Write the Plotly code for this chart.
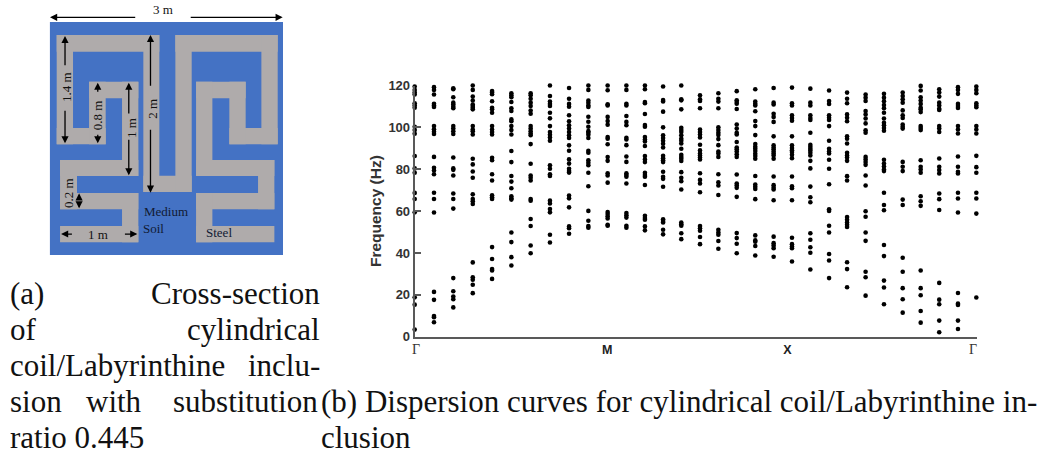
import plotly.graph_objects as go

# ---------- Dispersion data: frequency (Hz) per wave-vector step ----------
KPOS = [0,1.03,2.06,3.10,4.13,5.16,6.19,7.22,8.24,9.27,10.30,11.30,12.29,13.26,14.23,15.23,16.21,17.19,18.18,19.16,
        20.14,21.12,22.12,23.08,24.07,25.05,26.05,27.01,28.0,29.0,29.98]
F00 = [119.5,117.9,116.6,115.7,111.5,110.5,109.4,100.3,98.7,97,86.3,80.4,78.3,68.7,65.8,59.4,18.8,15.3,3.4]
F01 = [119.2,117.9,115.7,111.3,110.5,109.7,100.6,99.1,97.9,96.8,85.9,80.7,79.4,77.6,68.8,65.8,59.3,21.4,17.6,9.9,9.3,6.9]
F02 = [118.7,118.2,114.4,111.8,110.9,109.9,109.1,100.6,99.4,98.1,96.8,85.6,80.4,79.7,77,68.4,65.8,61.2,28,21.7,19.2,17.9,14]
F03 = [120,117.9,114.7,112.8,110.9,110.2,109.4,108.6,100.6,99,98.1,96.6,85,82.3,78.9,75.9,68,65.8,64.7,63.4,35.5,28.4,27.2,24.8,20.8]
F04 = [117.4,116.6,115.8,112.5,109.4,108.6,107,100.6,99,97.8,96.6,85.5,84.3,77.6,74.6,67.6,66.6,65.8,42.8,37.1,32.3,31.6,27.6]
F05 = [116.3,115.3,114.4,112.1,109.1,107.8,103.8,102.9,100.6,98.7,96.6,88.7,83.4,76.8,74.1,70.9,67.1,66.1,65.5,49.8,45.2,38,34]
F06 = [116.3,115.3,113.7,111.8,110.2,108,106.5,100.6,99.4,98.2,97.1,96.2,92,82.6,77,75.9,74.6,65.8,65,56.2,52.9,43.6,39.9]
F07 = [120,115,112.3,111.2,110.2,107,104.3,100.6,97.8,96.5,95.2,93.6,81.9,80.2,77.6,76.8,65,63.6,61,59.4,48.7,45]
F08 = [118.8,113.7,111.2,109.9,105.8,102.9,101,99.4,97.8,96.2,94.9,91.4,88.8,84.7,82.7,80.2,79.2,78.4,67.4,66.1,61.8,52.7,51.8,49.2]
F09 = [120,117.9,112.8,111.7,110.5,109.7,105.1,102.7,100.3,98.2,97.4,96.5,94.9,88.8,87.9,84.3,83.1,81.9,78.3,71.9,60.1,55.4,52.9,52.1]
F10 = [120,117.7,111,110.5,105,103,101.3,95.4,94.6,91.9,85.8,84,78.1,77,73.6,59.6,58.6,57.5,56.5,53.5,53]
F11 = [120,117.9,111.3,110.5,105.4,102.6,101,95,94.2,91.5,86.1,83.5,78,77.3,76.4,73.2,59.1,58,56.9,53,52.1]
F12 = [120,118.2,112.1,111.5,106.4,101.1,100.3,95.4,94.2,93.3,91.1,86.3,84.7,83.4,78.3,77.3,76.4,72.5,57.8,56.7,55.9,52.7,50.8]
F13 = [119.5,113.1,112.4,107.5,100,96.2,94.9,93.6,92.2,90.4,86.4,85.3,84.3,83.4,78.8,76.4,75.4,71.6,56.1,55.3,54.6,51.1,48.9]
F14 = [120,113.4,112.9,108.6,99.8,98.7,97.8,96.2,94.6,93.6,92.3,89.8,86.9,85.9,85,83.9,78.6,75.9,74.3,70.3,54.5,53.7,53,49.4,46.6]
F15 = [115.3,113.4,112.6,109.1,99,97.8,96.6,95.2,91.7,89,87.5,86.6,85.6,84.7,78.1,74.9,73.2,69,52.9,51.8,50.6,47.6,44.2]
F16 = [116.3,113.7,112.3,109.1,100,98.7,97.4,96.3,94.4,91.5,88.5,87.5,85.9,77.6,73.8,72.2,67.7,51.1,49.8,48.7,45.7,42]
F17 = [117.3,112.9,112.1,111.3,108.8,101.4,99.4,97.4,96.6,93,90.4,89.5,88.5,87.2,85.9,77.5,73.2,72.2,71.1,66.8,49.5,47.1,44.4,39.9]
F18 = [118.2,112.3,111.3,110.5,107.7,103,100.6,96.3,92,90.7,89.8,88.7,87.4,86.3,85,76.8,72.7,71.6,70.6,65.7,48.4,46,45.4,43.3,38.8]
F19 = [118.8,111.8,110.9,106.5,105,102.6,95.7,91.4,90.4,89.5,88.5,87.5,86.6,85,76.5,72.4,71.2,70.3,65.2,47.8,44.7,43.6,42.3,38.2]
F20 = [119,111.5,110.5,105.8,104.5,103.2,95.7,91.4,90.1,89.1,88.2,86.9,85.3,76.5,71.9,70.9,65.2,47.3,44.2,43.1,42.3,35.9]
F21 = [118.5,111.8,110.5,105.8,104.5,103.5,97.4,91.7,90.7,89.8,89,87.9,86.6,84,80.4,71.7,66.6,64.2,49.4,46.3,42.7,40.1,32.1]
F22 = [117.6,112.6,111.2,105.8,104.6,103.5,100.6,93.6,89.8,88.5,87.5,84.5,80.2,72.8,60.9,60.1,53,49.8,39.5,36.4,28]
F23 = [116.6,113.7,111.5,106.2,104.6,102.9,95.7,94.6,92.3,87.9,86.6,85.6,84,76.7,74.6,57.2,55.9,54.6,53.5,52.4,35.6,32.3,23.6]
F24 = [115.7,114.2,112.6,107.8,106.2,104.2,101.9,98.6,97.4,85.9,84.7,83.4,82.1,77,72.2,59.9,57.3,49.8,45.8,31,28.4,19.6]
F25 = [116,114.2,112.5,110.7,109.1,107,104.2,102.2,101,99.7,98.4,84.5,82.7,81.3,79.9,79.1,68.8,62.9,60.4,43.8,38.5,26.8,23.5,15.5]
F26 = [116.6,115,113.4,111.8,108.1,105.8,104.5,101.4,100.3,99.4,83.5,81.2,79.1,65.5,62.9,37.7,31,23.2,17.9,11.5]
F27 = [119.8,117.6,114.4,112.8,111.2,109.4,108.6,107.3,100.6,99.7,98.7,84.3,81.2,79.9,78.3,67.1,64.7,62.5,31.6,23.2,19.8,12.3,6.7]
F28 = [118.2,116.6,114.7,111.8,110.5,108.9,108.3,100.6,99.4,97.8,85.1,81.2,79.6,78,68.4,65.7,60.5,25.7,17.7,15.5,7.7,2.1]
F29 = [119.2,117.9,116,111.2,110.2,109.3,100.6,99,97.1,86.1,81.2,78.8,78,68.8,66,59.3,20.9,15.8,15.2,7.7,3.7]
F30 = [119.5,117.9,116.3,111.5,110.5,109.6,100.6,99,97.1,86.4,81,78.3,68.8,66,58.8,18.7]
BANDS = [F00,F01,F02,F03,F04,F05,F06,F07,F08,F09,F10,F11,F12,F13,F14,F15,F16,F17,F18,F19,F20,F21,F22,F23,F24,F25,F26,F27,F28,F29,F30]

Y_TICKS = [0, 20, 40, 60, 80, 100, 120]
SERIF = "Liberation Serif"
GAMMA = f'<span style="font-family:{SERIF};font-weight:normal;color:#333;font-size:14px">Γ</span>'
X_TICKS = [0.07, 10.28, 19.89, 29.8]
X_LABELS = [GAMMA, "<b>M</b>", "<b>X</b>", GAMMA]

# ---------- Cross-section geometry, in metres from the top-left corner ----------
STEEL_RECTS = [
    (0.09,0.167,1.41,0.382),(0.09,0.167,0.30,1.575),(0.09,1.365,0.72,1.575),(0.506,0.768,0.72,1.575),
    (0.506,0.768,1.14,0.983),(0.93,0.768,1.14,1.983),(0.133,1.777,1.14,1.983),(0.133,1.777,0.351,2.412),
    (0.133,2.202,1.14,2.412),(0.93,2.202,1.14,2.837),(0.133,2.627,1.14,2.837),
    (1.204,0.167,1.41,2.189),(1.204,1.979,1.826,2.189),(1.616,0.167,1.826,2.189),
    (1.616,0.167,2.932,0.382),(2.722,0.167,2.932,1.575),(2.31,1.365,2.932,1.575),(2.31,0.768,2.52,1.575),
    (1.882,0.768,2.52,0.983),(1.882,0.768,2.092,1.983),(1.882,1.777,2.889,1.983),(2.679,1.777,2.889,2.412),
    (1.882,2.202,2.889,2.412),(1.882,2.202,2.092,2.837),(1.882,2.627,2.889,2.837),
]
ARROWS = [  # tail x, tail y, head x, head y
    (1.119,-0.06,0.004,-0.06),(1.794,-0.06,2.996,-0.06),
    (0.197,0.575,0.197,0.18),(0.197,1.124,0.197,1.562),
    (0.618,0.918,0.618,0.781),(0.618,1.433,0.618,1.562),
    (1.017,1.197,1.017,0.781),(1.017,1.498,1.017,1.974),
    (1.296,0.841,1.296,0.167),(1.296,1.369,1.296,2.197),
    (0.378,2.30,0.378,2.206),(0.378,2.30,0.378,2.399),
    (0.305,2.73,0.146,2.73),(0.948,2.73,1.127,2.73),
]
DIAGRAM_LABELS = [  # text, x, y, rotation
    ("3 m",1.461,-0.155,0),("1.4 m",0.219,0.841,-90),("0.8 m",0.626,1.197,-90),("1 m",1.054,1.369,-90),
    ("2 m",1.32,1.112,-90),("0.2 m",0.24,2.197,-90),("1 m",0.626,2.73,0),
    ("Medium",1.491,2.442,0),("Soil",1.341,2.661,0),("Steel",2.18,2.712,0),
]
CAPTIONS = [  # text, x px, y px, anchor
    ("(a)",8.5,293,"left"),("Cross-section",321,293,"right"),
    ("of",8.5,329,"left"),("cylindrical",321,329,"right"),
    ("coil/Labyrinthine",8.5,365,"left"),("inclu-",321,365,"right"),
    ("sion",8.5,401,"left"),("with",114,401,"center"),("substitution",319,401,"right"),
    ("ratio 0.445",8.5,437,"left"),
    ("(b) Dispersion curves for cylindrical coil/Labyrinthine in-",319.5,401,"left"),
    ("clusion",319.5,437,"left"),
]

W, H = 1047, 455
PLOT = (414.7, 976.7, 85.5, 336.7)   # left, right, top, bottom px
M_PX = (283 - 49.7) / 3              # diagram pixels per metre
DIAG_TOP_M = -0.25                   # room above the square for the 3 m dimension line
DIAG = (49.7, 283, 22 + DIAG_TOP_M * M_PX, 255)

xs, ys = [], []
for k, band in zip(KPOS, BANDS):
    xs += [k] * len(band)
    ys += band

fig = go.Figure()
fig.add_trace(go.Scatter(x=xs, y=ys, mode="markers", cliponaxis=False, showlegend=False,
                         marker=dict(color="black", size=4.6)))

fig.update_layout(
    width=W, height=H, margin=dict(l=0, r=0, t=0, b=0, autoexpand=False), autosize=False,
    paper_bgcolor="white", plot_bgcolor="rgba(0,0,0,0)", showlegend=False,
    xaxis=dict(domain=[PLOT[0]/W, PLOT[1]/W], range=[0, 30], tickmode="array", tickvals=X_TICKS,
               ticktext=X_LABELS, ticks="", showgrid=False, zeroline=False, showline=True,
               linecolor="#595959", linewidth=2, ticklabelstandoff=0,
               tickfont=dict(family="Liberation Sans", size=12.5, color="#222")),
    yaxis=dict(domain=[1-PLOT[3]/H, 1-PLOT[2]/H], range=[0, 120], tickmode="array", tickvals=Y_TICKS,
               ticks="inside", ticklen=6, tickcolor="#595959", tickwidth=1.5, showgrid=False, zeroline=False,
               showline=True, linecolor="#595959", linewidth=2,
               tickfont=dict(family="Liberation Sans", size=13, color="#333", weight="bold"),
               title=dict(text="<b>Frequency (Hz)</b>", standoff=3,
                          font=dict(family="Liberation Sans", size=15.5, color="#333"))),
    xaxis2=dict(domain=[DIAG[0]/W, DIAG[1]/W], range=[0, 3], visible=False, anchor="y2"),
    yaxis2=dict(domain=[1-DIAG[3]/H, 1-DIAG[2]/H], range=[3, DIAG_TOP_M], visible=False, anchor="x2"),
    xaxis3=dict(domain=[0, 1], range=[0, W], visible=False, anchor="y3"),
    yaxis3=dict(domain=[0, 1], range=[H, 0], visible=False, anchor="x3"),
)

# Invisible traces keep the diagram and caption axes alive
fig.add_trace(go.Scatter(x=[0, 3], y=[0, 3], xaxis="x2", yaxis="y2", mode="markers",
                         marker=dict(size=1, opacity=0), showlegend=False, hoverinfo="skip"))
fig.add_trace(go.Scatter(x=[0, W], y=[0, H], xaxis="x3", yaxis="y3", mode="markers",
                         marker=dict(size=1, opacity=0), showlegend=False, hoverinfo="skip"))

fig.add_shape(type="rect", xref="x2", yref="y2", x0=0, y0=0, x1=3, y1=3, fillcolor="#4472C4",
              line_width=0, layer="below")
for x0, y0, x1, y1 in STEEL_RECTS:
    fig.add_shape(type="rect", xref="x2", yref="y2", x0=x0, y0=y0, x1=x1, y1=y1,
                  fillcolor="#AFABAB", line_width=0, layer="below")

for tx, ty, hx, hy in ARROWS:
    fig.add_annotation(xref="x2", yref="y2", axref="x2", ayref="y2", x=hx, y=hy, ax=tx, ay=ty, text="",
                       showarrow=True, arrowhead=2, arrowsize=1.1, arrowwidth=1.3, arrowcolor="black")
for t, x, y, rot in DIAGRAM_LABELS:
    fig.add_annotation(xref="x2", yref="y2", x=x, y=y, text=t, showarrow=False, textangle=rot,
                       font=dict(family=SERIF, size=13, color="#111a33" if y > 2.3 and x > 1.2 else "#111"))

for t, x, y, a in CAPTIONS:
    fig.add_annotation(xref="x3", yref="y3", x=x, y=y, text=t, showarrow=False, xanchor=a,
                       yanchor="middle", borderpad=0, font=dict(family=SERIF, size=31, color="#111"))

fig.write_html("out.html", config={"displayModeBar": False}, post_script="document.body.style.margin='0';")
